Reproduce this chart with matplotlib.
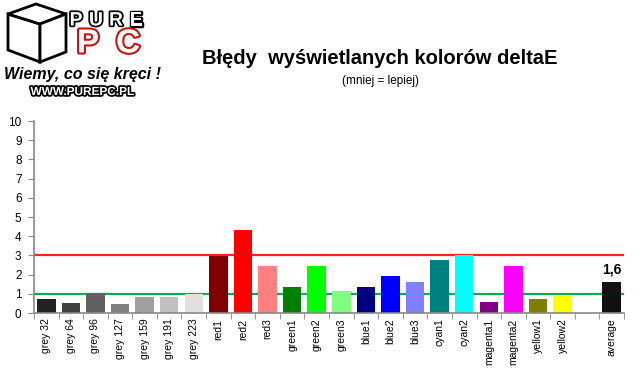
import matplotlib.pyplot as plt
import matplotlib.patheffects as pe
from matplotlib.patches import Polygon
import numpy as np

# Data
categories = ["grey 32", "grey 64", "grey 96", "grey 127", "grey 159", "grey 191", "grey 223",
              "red1", "red2", "red3", "green1", "green2", "green3",
              "blue1", "blue2", "blue3", "cyan1", "cyan2",
              "magenta1", "magenta2", "yellow1", "yellow2", "", "average"]
delta_e = [0.73, 0.54, 1.02, 0.49, 0.83, 0.83, 1.0,
           2.98, 4.33, 2.46, 1.37, 2.46, 1.14,
           1.37, 1.94, 1.63, 2.76, 3.02,
           0.59, 2.46, 0.75, 0.90, 0, 1.61]
bar_colors = ["#222222", "#404040", "#606060", "#808080", "#a0a0a0", "#c0c0c0", "#e0e0e0",
              "#800000", "#ff0000", "#ff8080", "#008000", "#00ff00", "#80ff80",
              "#000080", "#0000ff", "#8080ff", "#008080", "#00ffff",
              "#800080", "#ff00ff", "#808000", "#ffff00", "#ffffff", "#111111"]
limit_bad = 3
limit_good = 1
avg_label = "1,6"

plt.rcParams['font.family'] = ['Liberation Sans', 'DejaVu Sans']

fig = plt.figure(figsize=(6.39, 3.79), dpi=100)
ax = fig.add_axes([34 / 639, 66 / 379, 590 / 639, 192 / 379])

x = np.arange(len(categories))
ax.axhline(limit_bad, color="#ff2222", lw=1.6, zorder=1)
ax.axhline(limit_good, color="#00b050", lw=1.6, zorder=1)
ax.bar(x, delta_e, 0.75, color=bar_colors, zorder=2)

ax.set_xlim(-0.5, len(categories) - 0.5)
ax.set_ylim(0, 10)
ax.set_yticks(range(0, 11))
ax.set_xticks(x)
ax.set_xticklabels(categories, rotation=90, fontsize=7.5)
ax.set_xticks(np.arange(-0.5, len(categories)), minor=True)
ax.tick_params(axis='x', which='major', length=0, pad=4)
ax.tick_params(axis='x', which='minor', length=4, color="#888888")
ax.tick_params(axis='y', length=4, color="#888888", labelsize=8.5, pad=5)
for s in ["top", "right"]:
    ax.spines[s].set_visible(False)
for s in ["left", "bottom"]:
    ax.spines[s].set_color("#888888")
    ax.spines[s].set_linewidth(1.2)

ax.text(x[-1], delta_e[-1] + 0.3, avg_label, ha='center', va='bottom',
        fontsize=10, fontweight='bold')

# Title
fig.text(380 / 639, 1 - 58 / 379, "Błędy  wyświetlanych kolorów deltaE", ha='center', va='center',
         fontsize=14.5, fontweight='bold')
fig.text(380 / 639, 1 - 81 / 379, "(mniej = lepiej)", ha='center', va='center', fontsize=8.5)

# Logo (rough)
outline = [pe.withStroke(linewidth=2.5, foreground="black")]
for i, ch in enumerate("PURE"):
    fig.text((76 + i * 20) / 639, 1 - 21 / 379, ch, fontsize=14, fontweight='bold', color='white',
             ha='center', va='center', path_effects=outline)
for i, ch in enumerate("PC"):
    fig.text((88 + i * 40) / 639, 1 - 44 / 379, ch, fontsize=24, fontweight='bold', color='white',
             ha='center', va='center', path_effects=[pe.withStroke(linewidth=3, foreground="#cc1111")])
fig.text(82 / 639, 1 - 75 / 379, "Wiemy, co się kręci !", fontsize=11.5, fontweight='bold',
         style='italic', ha='center', va='center')
fig.text(82 / 639, 1 - 92 / 379, "WWW.PUREPC.PL", fontsize=8.5, fontweight='bold', color='white',
         ha='center', va='center', path_effects=outline)
box_front = [(8, 14), (40, 24), (40, 62), (8, 50)]
box_top = [(8, 14), (36, 4), (66, 14), (40, 24)]
box_side = [(40, 24), (66, 14), (66, 52), (40, 62)]
for poly in (box_front, box_top, box_side):
    fig.add_artist(Polygon([(px / 639, 1 - py / 379) for px, py in poly], closed=True,
                           facecolor='white', edgecolor='black', lw=2))

fig.savefig("out.png", dpi=100)
